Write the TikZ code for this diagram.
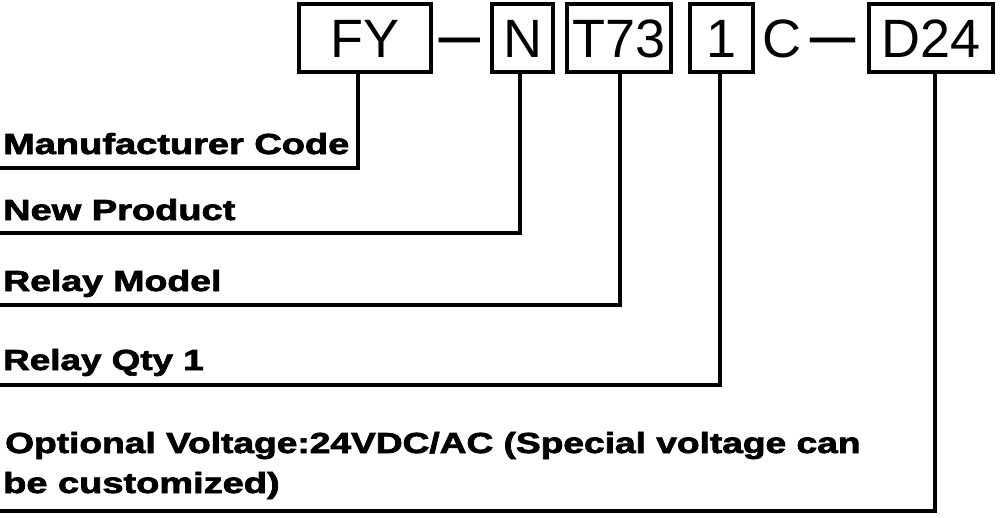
\documentclass[tikz,border=0pt]{standalone}
\usepackage{fontspec}
\setmainfont{Liberation Sans}
\newfontfamily\heavyfont[FakeBold=2.2]{Liberation Sans Bold}
\usepackage{graphicx}
\begin{document}
\begin{tikzpicture}[x=1pt,y=-1pt,
  codebox/.style={draw=black, line width=4pt, inner sep=0pt, minimum height=68pt,
    text height=38.7pt, text depth=0pt, font=\fontsize{54}{54}\selectfont},
  codetext/.style={inner sep=0pt, text height=38.7pt, text depth=0pt,
    font=\fontsize{54}{54}\selectfont},
  dashbar/.style={codetext, font=\fontsize{54}{54}\selectfont\bfseries},
  lab/.style={anchor=base west, inner sep=0pt, font=\fontsize{29}{29}\heavyfont},
  lead/.style={line width=3.6pt, line join=miter}]
\useasboundingbox (0,0) rectangle (1000,517);
% code boxes
\node[codebox, minimum width=132pt] (fy) at (365,38) {FY};
\node[dashbar] (d1) at (460,38) {\raisebox{4pt}{\scalebox{1.55}[0.9]{–}}};
\node[codebox, minimum width=61pt] (n) at (522.5,38) {N};
\node[codebox, minimum width=104pt] (t) at (619,38) {T73};
\node[codebox, minimum width=63pt] (q) at (721.5,38) {1};
\node[codetext] (c) at (782,38) {C};
\node[dashbar] (d2) at (833,38) {\raisebox{4pt}{\scalebox{1.7}[0.9]{–}}};
\node[codebox, minimum width=124pt] (v) at (931,38) {D24};
% labels
\node[lab] (l1) at (3,154) {\scalebox{1.31}[1]{Manufacturer Code}};
\node[lab] (l2) at (3,220) {\scalebox{1.31}[1]{New Product}};
\node[lab] (l3) at (3,291) {\scalebox{1.29}[1]{Relay Model}};
\node[lab] (l4) at (3,370) {\scalebox{1.27}[1]{Relay Qty 1}};
\node[lab] (l5) at (5,453) {\scalebox{1.28}[1]{Optional Voltage:24VDC/AC (Special voltage can}};
\node[lab] (l6) at (3,493) {\scalebox{1.31}[1]{be customized)}};
% leader lines
\coordinate (j1) at (358,168); \coordinate (e1) at (0,168);
\coordinate (j2) at (520,233); \coordinate (e2) at (0,233);
\coordinate (j3) at (620,305); \coordinate (e3) at (0,305);
\coordinate (j4) at (720,385); \coordinate (e4) at (0,385);
\coordinate (j5) at (935,511); \coordinate (e5) at (0,511);
\draw[lead] (fy.south -| j1) -- (j1) -- (e1);
\draw[lead] (n.south -| j2) -- (j2) -- (e2);
\draw[lead] (t.south -| j3) -- (j3) -- (e3);
\draw[lead] (q.south -| j4) -- (j4) -- (e4);
\draw[lead] (v.south -| j5) -- (j5) -- (e5);
\end{tikzpicture}
\end{document}
